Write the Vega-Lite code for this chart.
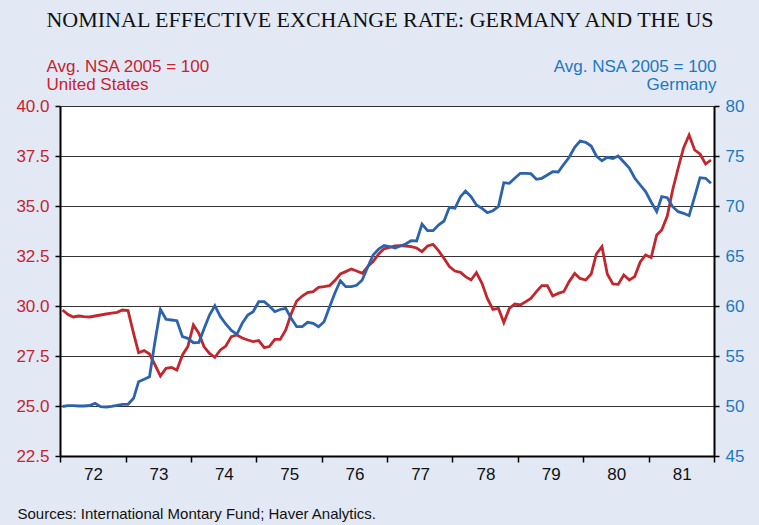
{
  "$schema": "https://vega.github.io/schema/vega-lite/v6.json",
  "width": 654,
  "height": 350,
  "autosize": {"type": "none"},
  "padding": {"left": 60, "top": 106, "right": 45, "bottom": 69},
  "background": "#e2e9f5",
  "title": {
    "text": "NOMINAL EFFECTIVE EXCHANGE RATE: GERMANY AND THE US",
    "font": "Liberation Serif",
    "fontSize": 22,
    "fontWeight": "normal",
    "color": "#111111",
    "anchor": "middle",
    "dx": -7,
    "offset": 25
  },
  "data": {
    "values": [
      {"date": "1972-01-15", "us": 29.8, "de": 49.95},
      {"date": "1972-02-15", "us": 29.57, "de": 50.03},
      {"date": "1972-03-15", "us": 29.45, "de": 50.03},
      {"date": "1972-04-15", "us": 29.5, "de": 50.0},
      {"date": "1972-05-15", "us": 29.47, "de": 50.0},
      {"date": "1972-06-15", "us": 29.45, "de": 50.05},
      {"date": "1972-07-15", "us": 29.5, "de": 50.27},
      {"date": "1972-08-15", "us": 29.55, "de": 49.93},
      {"date": "1972-09-15", "us": 29.6, "de": 49.9},
      {"date": "1972-10-15", "us": 29.64, "de": 49.97},
      {"date": "1972-11-15", "us": 29.68, "de": 50.07},
      {"date": "1972-12-15", "us": 29.8, "de": 50.17},
      {"date": "1973-01-15", "us": 29.77, "de": 50.17},
      {"date": "1973-02-15", "us": 28.63, "de": 50.77},
      {"date": "1973-03-15", "us": 27.67, "de": 52.43},
      {"date": "1973-04-15", "us": 27.77, "de": 52.67},
      {"date": "1973-05-15", "us": 27.6, "de": 52.93},
      {"date": "1973-06-15", "us": 27.05, "de": 56.5},
      {"date": "1973-07-15", "us": 26.5, "de": 59.67},
      {"date": "1973-08-15", "us": 26.88, "de": 58.67},
      {"date": "1973-09-15", "us": 26.93, "de": 58.6},
      {"date": "1973-10-15", "us": 26.8, "de": 58.53},
      {"date": "1973-11-15", "us": 27.55, "de": 56.93},
      {"date": "1973-12-15", "us": 27.97, "de": 56.77},
      {"date": "1974-01-15", "us": 29.05, "de": 56.33},
      {"date": "1974-02-15", "us": 28.63, "de": 56.37},
      {"date": "1974-03-15", "us": 27.97, "de": 57.7},
      {"date": "1974-04-15", "us": 27.63, "de": 59.1},
      {"date": "1974-05-15", "us": 27.43, "de": 60.03},
      {"date": "1974-06-15", "us": 27.8, "de": 58.93},
      {"date": "1974-07-15", "us": 28.0, "de": 58.2},
      {"date": "1974-08-15", "us": 28.47, "de": 57.55},
      {"date": "1974-09-15", "us": 28.55, "de": 57.17},
      {"date": "1974-10-15", "us": 28.4, "de": 58.27},
      {"date": "1974-11-15", "us": 28.3, "de": 59.1},
      {"date": "1974-12-15", "us": 28.22, "de": 59.43},
      {"date": "1975-01-15", "us": 28.27, "de": 60.43},
      {"date": "1975-02-15", "us": 27.92, "de": 60.43},
      {"date": "1975-03-15", "us": 27.97, "de": 60.0},
      {"date": "1975-04-15", "us": 28.33, "de": 59.43},
      {"date": "1975-05-15", "us": 28.33, "de": 59.65},
      {"date": "1975-06-15", "us": 28.8, "de": 59.77},
      {"date": "1975-07-15", "us": 29.6, "de": 58.77},
      {"date": "1975-08-15", "us": 30.25, "de": 57.93},
      {"date": "1975-09-15", "us": 30.5, "de": 57.93},
      {"date": "1975-10-15", "us": 30.67, "de": 58.37},
      {"date": "1975-11-15", "us": 30.72, "de": 58.27},
      {"date": "1975-12-15", "us": 30.93, "de": 57.93},
      {"date": "1976-01-15", "us": 30.97, "de": 58.43},
      {"date": "1976-02-15", "us": 31.02, "de": 59.93},
      {"date": "1976-03-15", "us": 31.27, "de": 61.27},
      {"date": "1976-04-15", "us": 31.6, "de": 62.53},
      {"date": "1976-05-15", "us": 31.72, "de": 61.93},
      {"date": "1976-06-15", "us": 31.85, "de": 61.93},
      {"date": "1976-07-15", "us": 31.75, "de": 62.07},
      {"date": "1976-08-15", "us": 31.63, "de": 62.6},
      {"date": "1976-09-15", "us": 31.97, "de": 63.9},
      {"date": "1976-10-15", "us": 32.22, "de": 65.1},
      {"date": "1976-11-15", "us": 32.6, "de": 65.7},
      {"date": "1976-12-15", "us": 32.86, "de": 66.05},
      {"date": "1977-01-15", "us": 32.93, "de": 65.95},
      {"date": "1977-02-15", "us": 33.0, "de": 65.8},
      {"date": "1977-03-15", "us": 33.02, "de": 66.0},
      {"date": "1977-04-15", "us": 33.0, "de": 66.2},
      {"date": "1977-05-15", "us": 32.97, "de": 66.53},
      {"date": "1977-06-15", "us": 32.9, "de": 66.5},
      {"date": "1977-07-15", "us": 32.72, "de": 68.2},
      {"date": "1977-08-15", "us": 33.0, "de": 67.53},
      {"date": "1977-09-15", "us": 33.08, "de": 67.53},
      {"date": "1977-10-15", "us": 32.77, "de": 68.1},
      {"date": "1977-11-15", "us": 32.38, "de": 68.5},
      {"date": "1977-12-15", "us": 31.97, "de": 69.87},
      {"date": "1978-01-15", "us": 31.75, "de": 69.77},
      {"date": "1978-02-15", "us": 31.68, "de": 70.93},
      {"date": "1978-03-15", "us": 31.47, "de": 71.5},
      {"date": "1978-04-15", "us": 31.3, "de": 70.93},
      {"date": "1978-05-15", "us": 31.67, "de": 70.1},
      {"date": "1978-06-15", "us": 31.13, "de": 69.77},
      {"date": "1978-07-15", "us": 30.38, "de": 69.33},
      {"date": "1978-08-15", "us": 29.83, "de": 69.53},
      {"date": "1978-09-15", "us": 29.88, "de": 69.95},
      {"date": "1978-10-15", "us": 29.17, "de": 72.33},
      {"date": "1978-11-15", "us": 29.88, "de": 72.27},
      {"date": "1978-12-15", "us": 30.1, "de": 72.77},
      {"date": "1979-01-15", "us": 30.05, "de": 73.27},
      {"date": "1979-02-15", "us": 30.22, "de": 73.27},
      {"date": "1979-03-15", "us": 30.38, "de": 73.23},
      {"date": "1979-04-15", "us": 30.72, "de": 72.67},
      {"date": "1979-05-15", "us": 31.02, "de": 72.77},
      {"date": "1979-06-15", "us": 31.02, "de": 73.1},
      {"date": "1979-07-15", "us": 30.5, "de": 73.43},
      {"date": "1979-08-15", "us": 30.63, "de": 73.4},
      {"date": "1979-09-15", "us": 30.72, "de": 74.17},
      {"date": "1979-10-15", "us": 31.22, "de": 74.87},
      {"date": "1979-11-15", "us": 31.63, "de": 75.87},
      {"date": "1979-12-15", "us": 31.38, "de": 76.5},
      {"date": "1980-01-15", "us": 31.3, "de": 76.37},
      {"date": "1980-02-15", "us": 31.6, "de": 76.0},
      {"date": "1980-03-15", "us": 32.6, "de": 75.0},
      {"date": "1980-04-15", "us": 32.97, "de": 74.53},
      {"date": "1980-05-15", "us": 31.6, "de": 74.87},
      {"date": "1980-06-15", "us": 31.1, "de": 74.75},
      {"date": "1980-07-15", "us": 31.08, "de": 75.0},
      {"date": "1980-08-15", "us": 31.55, "de": 74.4},
      {"date": "1980-09-15", "us": 31.3, "de": 73.8},
      {"date": "1980-10-15", "us": 31.47, "de": 72.8},
      {"date": "1980-11-15", "us": 32.2, "de": 72.1},
      {"date": "1980-12-15", "us": 32.55, "de": 71.45},
      {"date": "1981-01-15", "us": 32.42, "de": 70.4},
      {"date": "1981-02-15", "us": 33.55, "de": 69.43},
      {"date": "1981-03-15", "us": 33.8, "de": 70.93},
      {"date": "1981-04-15", "us": 34.5, "de": 70.83},
      {"date": "1981-05-15", "us": 35.8, "de": 69.93},
      {"date": "1981-06-15", "us": 36.9, "de": 69.43},
      {"date": "1981-07-15", "us": 37.9, "de": 69.27},
      {"date": "1981-08-15", "us": 38.55, "de": 69.03},
      {"date": "1981-09-15", "us": 37.8, "de": 70.93},
      {"date": "1981-10-15", "us": 37.6, "de": 72.83},
      {"date": "1981-11-15", "us": 37.1, "de": 72.77},
      {"date": "1981-12-15", "us": 37.3, "de": 72.27}
    ]
  },
  "encoding": {
    "x": {
      "field": "date",
      "type": "temporal",
      "scale": {"domain": [{"year": 1972, "month": 1, "date": 1}, {"year": 1982, "month": 1, "date": 1}]},
      "axis": {
        "values": [
          {"year": 1972, "month": 1, "date": 1}, {"year": 1973, "month": 1, "date": 1},
          {"year": 1974, "month": 1, "date": 1}, {"year": 1975, "month": 1, "date": 1},
          {"year": 1976, "month": 1, "date": 1}, {"year": 1977, "month": 1, "date": 1},
          {"year": 1978, "month": 1, "date": 1}, {"year": 1979, "month": 1, "date": 1},
          {"year": 1980, "month": 1, "date": 1}, {"year": 1981, "month": 1, "date": 1},
          {"year": 1982, "month": 1, "date": 1}
        ],
        "labelExpr": "year(datum.value) > 1981 ? '' : timeFormat(datum.value, '%y')",
        "labelOffset": 33,
        "labelFlush": false,
        "labelOverlap": false,
        "labelFontSize": 17,
        "labelColor": "#111111",
        "labelPadding": 4,
        "grid": false,
        "domainColor": "#000000",
        "domainWidth": 2,
        "tickColor": "#000000",
        "tickSize": 6,
        "tickWidth": 1.5,
        "title": "Sources: International Montary Fund; Haver Analytics.",
        "titleAnchor": "start",
        "titleAlign": "left",
        "titleBaseline": "alphabetic",
        "titleX": -43,
        "titleY": 62,
        "titleFontSize": 15,
        "titleFontWeight": "normal",
        "titleColor": "#111111"
      }
    }
  },
  "layer": [
    {
      "mark": {"type": "line", "color": "#c1272d", "strokeWidth": 2.8},
      "encoding": {
        "y": {
          "field": "us",
          "type": "quantitative",
          "scale": {"domain": [22.5, 40], "nice": false, "zero": false},
          "axis": {
            "orient": "left",
            "values": [22.5, 25, 27.5, 30, 32.5, 35, 37.5, 40],
            "format": ".1f",
            "labelColor": "#c8222f",
            "labelFontSize": 17,
            "labelPadding": 6,
            "grid": true,
            "gridColor": "#333333",
            "gridWidth": 1.2,
            "domainColor": "#000000",
            "domainWidth": 2,
            "tickColor": "#000000",
            "tickSize": 5,
            "tickWidth": 1.5,
            "title": ["Avg. NSA 2005 = 100", "United States"],
            "titleAngle": 0,
            "titleAlign": "left",
            "titleBaseline": "alphabetic",
            "titleX": -14,
            "titleY": -35,
            "titleLineHeight": 18,
            "titleFontSize": 17,
            "titleFontWeight": "normal",
            "titleColor": "#c8222f"
          }
        }
      }
    },
    {
      "mark": {"type": "line", "color": "#2c63ad", "strokeWidth": 2.8},
      "encoding": {
        "y": {
          "field": "de",
          "type": "quantitative",
          "scale": {"domain": [45, 80], "nice": false, "zero": false},
          "axis": {
            "orient": "right",
            "values": [45, 50, 55, 60, 65, 70, 75, 80],
            "labelColor": "#1d78c1",
            "labelFontSize": 17,
            "labelPadding": 6,
            "grid": false,
            "domainColor": "#000000",
            "domainWidth": 2,
            "tickColor": "#000000",
            "tickSize": 5,
            "tickWidth": 1.5,
            "title": ["Avg. NSA 2005 = 100", "Germany"],
            "titleAngle": 0,
            "titleAlign": "right",
            "titleBaseline": "alphabetic",
            "titleX": 2,
            "titleY": -35,
            "titleLineHeight": 18,
            "titleFontSize": 17,
            "titleFontWeight": "normal",
            "titleColor": "#1d78c1"
          }
        }
      }
    }
  ],
  "resolve": {"scale": {"y": "independent"}},
  "config": {
    "font": "Liberation Sans",
    "view": {"fill": "#ffffff", "stroke": null}
  }
}
